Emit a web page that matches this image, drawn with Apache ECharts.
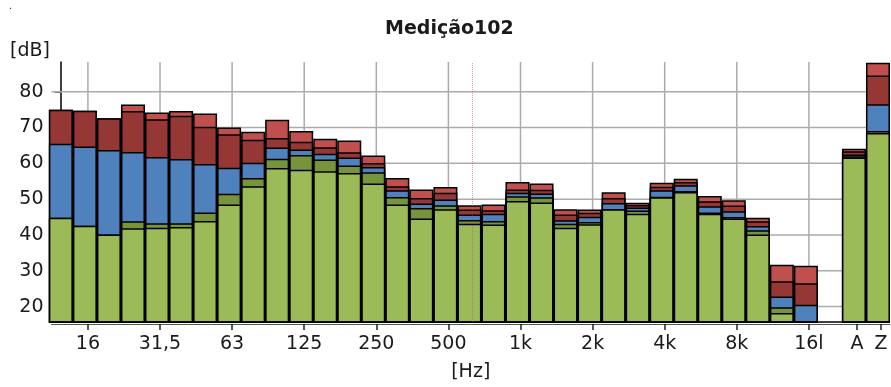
<!DOCTYPE html>
<html>
<head>
<meta charset="utf-8">
<script src="https://cdn.jsdelivr.net/npm/echarts@6/dist/echarts.min.js"></script>
<style>
  html, body { margin: 0; padding: 0; background: #fff; }
  #chart { width: 891px; height: 387px; }
</style>
</head>
<body>
<div id="chart"></div>
<script>
// 1/3-octave bands, an empty slot, then the A and Z totals
const bands = ['12.5', '16', '20', '25', '31.5', '40', '50', '63', '80', '100', '125', '160',
  '200', '250', '315', '400', '500', '630', '800', '1k', '1.25k', '1.6k', '2k', '2.5k',
  '3.15k', '4k', '5k', '6.3k', '8k', '10k', '12.5k', '16k', '', 'A', 'Z'];

// level per band in dB, highest layer first
const lightRed = [75.0, 74.7, 72.6, 76.4, 74.2, 74.6, 73.9, 70.0, 68.8, 72.2, 69.0, 66.9,
  66.4, 62.2, 55.9, 52.7, 53.4, 48.3, 48.5, 54.8, 54.4, 47.2, 47.1, 51.9,
  49.0, 54.6, 55.7, 50.9, 49.7, 44.8, 31.7, 31.4, null, 64.1, 88.1];
const darkRed = [75.0, 74.7, 72.6, 74.6, 72.3, 73.3, 70.2, 68.1, 66.6, 67.1, 66.0, 64.5,
  63.1, 60.1, 53.6, 50.3, 51.8, 47.1, 46.9, 52.7, 52.6, 45.7, 46.2, 50.3,
  48.4, 53.5, 54.8, 49.4, 48.2, 43.8, 27.1, 26.5, null, 63.4, 84.5];
const blue = [65.5, 64.7, 63.7, 63.2, 61.8, 61.2, 59.8, 58.8, 60.2, 64.4, 63.9, 62.7,
  61.6, 59.0, 52.5, 48.8, 49.9, 45.7, 45.9, 51.8, 51.6, 44.1, 45.1, 48.9,
  47.7, 52.5, 53.9, 48.0, 46.6, 42.5, 22.8, 20.5, null, 62.5, 76.5];
const darkGreen = [44.8, 42.6, 40.1, 43.8, 43.3, 43.3, 46.3, 51.5, 55.9, 61.3, 62.3, 61.1,
  59.4, 57.5, 50.6, 47.5, 48.3, 44.2, 43.9, 50.8, 50.5, 43.1, 43.6, 47.2,
  46.8, 50.7, 52.3, 46.3, 45.0, 41.3, 19.8, 15.0, null, 62.0, 69.0];
const lightGreen = [44.8, 42.6, 40.1, 41.9, 42.0, 42.2, 43.9, 48.5, 53.6, 58.7, 58.2, 57.8,
  57.3, 54.4, 48.5, 44.6, 47.2, 43.1, 42.9, 49.5, 49.1, 42.0, 43.0, 47.2,
  45.9, 50.5, 52.0, 45.9, 44.6, 40.1, 18.2, 14.5, null, 61.6, 68.5];

// labelled frequencies on the axis and how they are printed
const octaveBands = ['16', '31.5', '63', '125', '250', '500', '1k', '2k', '4k', '8k', '16k'];
const octaveText = ['16', '31,5', '63', '125', '250', '500', '1k', '2k', '4k', '8k', '16l'];
const totalBands = ['A', 'Z'];
const yTicks = [20, 30, 40, 50, 60, 70, 80];
const markerBand = '630';

const FONT = "'DejaVu Sans', Verdana, sans-serif";
const TEXT = '#1a1a1a';
const GRID_COLOR = '#ababab';
const TICK_SHIFT = 0.125;   // ticks sit slightly right of the bar centres
const X_MIN = -0.39, X_MAX = 34.5;
const Y_MIN = 15.7, Y_MAX = 88.3;

const pos = b => bands.indexOf(b) + TICK_SHIFT;
const octavePos = octaveBands.map(pos);
const tickPos = octavePos.concat(totalBands.map(pos));
const tickText = octaveText.concat(totalBands);

function nearestText(v) {
  let best = 0;
  tickPos.forEach((p, i) => { if (Math.abs(p - v) < Math.abs(tickPos[best] - v)) best = i; });
  return tickText[best];
}

const layers = [
  { name: 'Máx', values: lightRed, color: '#C0504D' },
  { name: 'L10', values: darkRed, color: '#953735' },
  { name: 'Leq', values: blue, color: '#4F81BD' },
  { name: 'L90', values: darkGreen, color: '#77933C' },
  { name: 'Mín', values: lightGreen, color: '#9BBB59' }
];

// grid lines drawn through the axes' own scales, behind the bars
const gridLines = {
  type: 'custom',
  z: 1,
  silent: true,
  data: yTicks.map(v => [1, v, 0]).concat(octavePos.map(v => [v, 50, 1])),
  encode: { x: 0, y: 1 },
  renderItem: (params, api) => {
    const cs = params.coordSys;
    const vertical = api.value(2) === 1;
    let shape;
    if (vertical) {
      const x = api.coord([api.value(0), 50])[0];
      shape = { x1: x, y1: cs.y, x2: x, y2: cs.y + cs.height };
    } else {
      const y = api.coord([1, api.value(1)])[1];
      shape = { x1: cs.x, y1: y, x2: cs.x + cs.width, y2: y };
    }
    return { type: 'line', shape: shape, style: { stroke: GRID_COLOR, lineWidth: 1.5 } };
  }
};

// dark bottom edge of the plot area, over the bar feet
const plotBase = {
  type: 'custom',
  z: 3,
  silent: true,
  data: [[1, 50]],
  encode: { x: 0, y: 1 },
  renderItem: (params, api) => {
    const cs = params.coordSys;
    const y = cs.y + cs.height;
    return { type: 'line', shape: { x1: cs.x, y1: y, x2: cs.x + cs.width, y2: y },
      style: { stroke: '#000', lineWidth: 1.5 } };
  }
};

const series = [gridLines].concat(layers.map((l, k) => {
  const s = {
    type: 'bar',
    name: l.name,
    barWidth: 24,
    barGap: '-100%',
    silent: true,
    itemStyle: { color: l.color, borderColor: '#000', borderWidth: 1.5 },
    data: l.values.map((v, i) => (v == null ? null : [i, v])).filter(d => d)
  };
  if (k === layers.length - 1) {
    // cursor line over the bars
    s.markLine = {
      silent: true,
      symbol: ['none', 'none'],
      label: { show: false },
      lineStyle: { color: 'rgba(165,60,165,0.5)', type: 'dotted', width: 1 },
      data: [{ xAxis: pos(markerBand) }]
    };
  }
  return s;
}), [plotBase]);

const chart = echarts.init(document.getElementById('chart'));
chart.setOption({
  animation: false,
  title: {
    text: 'Medição102',
    left: 385, top: 20, padding: 0,
    textStyle: { fontFamily: FONT, fontSize: 19, fontWeight: 'bold', color: TEXT }
  },
  graphic: [
    { type: 'text', left: 10, top: 42, style: { text: '[dB]', fontFamily: FONT, fontSize: 19, fill: TEXT } },
    { type: 'text', left: 9, top: 1, style: { text: '.', fontFamily: FONT, fontSize: 10, fill: '#222' } }
  ],
  grid: { left: 51.5, right: 1, top: 62, bottom: 60.3 },
  xAxis: [
    {
      type: 'value', min: X_MIN, max: X_MAX, position: 'bottom', offset: 2,
      axisLine: { show: true, lineStyle: { color: '#555', width: 1 } },
      axisTick: { show: true, customValues: tickPos, length: 6, lineStyle: { color: '#222', width: 1.5 } },
      axisLabel: {
        customValues: tickPos, margin: 11, fontFamily: FONT, fontSize: 19, color: TEXT,
        formatter: v => nearestText(v)
      },
      splitLine: { show: false },
      name: '[Hz]', nameLocation: 'middle', nameGap: 39,
      nameTextStyle: { fontFamily: FONT, fontSize: 19, color: TEXT }
    }
  ],
  yAxis: {
    type: 'value', min: Y_MIN, max: Y_MAX,
    axisLine: { show: true, lineStyle: { color: '#000', width: 1.5 } },
    axisTick: { show: true, customValues: yTicks, length: 6, lineStyle: { color: '#222', width: 1.5 } },
    axisLabel: { customValues: yTicks, margin: 8, fontFamily: FONT, fontSize: 19, color: TEXT },
    splitLine: { show: false }
  },
  series: series
});
</script>
</body>
</html>
